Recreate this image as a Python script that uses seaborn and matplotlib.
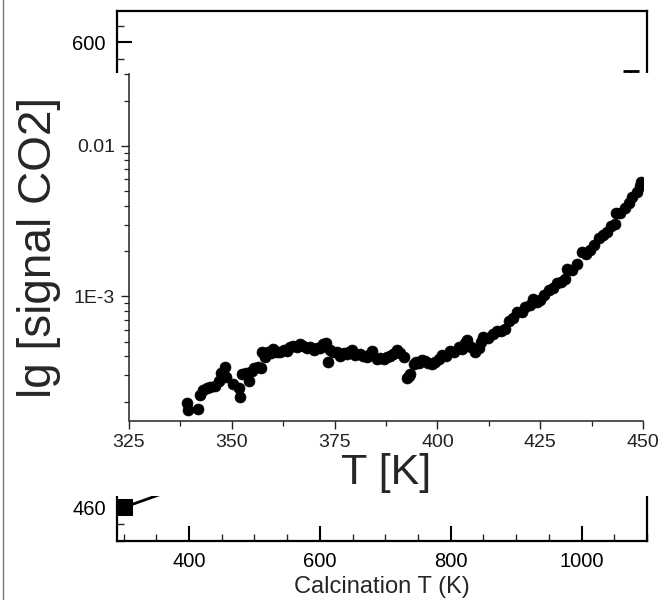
import numpy as np
import pandas as pd
import matplotlib
matplotlib.use("Agg")
import matplotlib.pyplot as plt
import seaborn as sns
from matplotlib.ticker import MultipleLocator, FixedLocator, FixedFormatter, LogLocator, NullFormatter
from matplotlib.patches import Rectangle
from matplotlib.lines import Line2D

# background plot: calcination temperature series (mostly hidden by the inset)
calc_T = [300, 600, 850, 1075]
calc_signal = [460, 481, 525, 576]
calc_err = [2, 4, 6, 15.5]
calc_yticks = [460, 600]

# inset: CO2 signal vs temperature
T_K = [339.2, 339.3, 341.9, 342.2, 343.1, 344.0, 344.8, 345.9, 347.0, 347.4,
       348.4, 348.7, 350.2, 351.8, 352.0, 352.4, 353.5, 354.3, 355.0, 355.5,
       356.4, 357.0, 357.3, 358.1, 358.8, 359.5, 360.1, 361.0, 361.8, 362.6,
       363.4, 364.2, 365.0, 365.8, 366.6, 367.4, 368.3, 369.1, 369.9, 370.7,
       371.5, 372.3, 372.8, 373.5, 374.0, 374.7, 375.5, 376.4, 377.2, 378.0,
       378.6, 379.2, 380.0, 381.2, 382.0, 382.8, 383.5, 384.1, 385.3, 386.1,
       386.9, 387.7, 388.5, 389.3, 390.2, 391.0, 391.8, 392.6, 393.0, 393.4,
       394.2, 394.8, 395.5, 396.3, 397.0, 397.8, 398.7, 399.5, 400.3, 401.1,
       402.0, 403.1, 404.0, 405.2, 406.0, 406.6, 407.2, 408.2, 409.2, 410.0,
       410.6, 411.2, 412.3, 413.5, 414.5, 415.5, 416.5, 417.3, 418.4, 419.4,
       420.5, 421.4, 422.4, 423.3, 424.2, 425.0, 426.0, 427.1, 428.1, 429.1,
       430.1, 431.1, 431.6, 432.8, 434.0, 435.2, 436.2, 437.2, 438.2, 439.2,
       440.3, 441.3, 442.3, 443.1, 443.4, 444.5, 445.7, 446.5, 447.4, 448.6,
       449.2, 449.5]
co2 = [1.97e-4, 1.76e-4, 1.78e-4, 2.22e-4, 2.39e-4, 2.45e-4, 2.50e-4, 2.56e-4, 2.76e-4, 3.10e-4,
       3.38e-4, 2.92e-4, 2.62e-4, 2.48e-4, 2.14e-4, 3.06e-4, 3.08e-4, 2.76e-4, 3.20e-4, 3.36e-4,
       3.42e-4, 3.36e-4, 4.25e-4, 3.96e-4, 4.30e-4, 4.20e-4, 4.48e-4, 4.30e-4, 4.25e-4, 4.40e-4,
       4.36e-4, 4.60e-4, 4.72e-4, 4.65e-4, 4.84e-4, 4.70e-4, 4.55e-4, 4.62e-4, 4.40e-4, 4.58e-4,
       4.55e-4, 4.80e-4, 4.88e-4, 3.65e-4, 4.40e-4, 4.25e-4, 4.30e-4, 4.05e-4, 4.20e-4, 4.15e-4,
       4.30e-4, 4.42e-4, 4.10e-4, 4.12e-4, 4.05e-4, 3.94e-4, 4.15e-4, 4.36e-4, 3.84e-4, 3.88e-4,
       3.85e-4, 3.95e-4, 4.00e-4, 4.12e-4, 4.42e-4, 4.20e-4, 3.98e-4, 2.87e-4, 2.95e-4, 3.05e-4,
       3.56e-4, 3.65e-4, 3.62e-4, 3.78e-4, 3.70e-4, 3.62e-4, 3.56e-4, 3.68e-4, 3.82e-4, 4.10e-4,
       4.05e-4, 4.36e-4, 4.30e-4, 4.60e-4, 4.50e-4, 4.90e-4, 5.14e-4, 4.60e-4, 4.25e-4, 4.55e-4,
       5.00e-4, 5.35e-4, 5.30e-4, 5.60e-4, 5.93e-4, 5.85e-4, 6.10e-4, 6.92e-4, 7.20e-4, 7.86e-4,
       7.90e-4, 8.49e-4, 8.80e-4, 9.65e-4, 9.20e-4, 9.40e-4, 1.02e-3, 1.10e-3, 1.14e-3, 1.22e-3,
       1.25e-3, 1.31e-3, 1.53e-3, 1.50e-3, 1.65e-3, 1.97e-3, 1.92e-3, 2.03e-3, 2.20e-3, 2.43e-3,
       2.55e-3, 2.68e-3, 2.95e-3, 3.05e-3, 3.56e-3, 3.60e-3, 3.84e-3, 4.20e-3, 4.60e-3, 4.96e-3,
       5.40e-3, 5.78e-3]

sns.set_style("ticks")
plt.rcParams['font.family'] = ['Liberation Sans', 'DejaVu Sans']

W, H = 660, 600
fig = plt.figure(figsize=(6.6, 6.0), dpi=100)

# main (background) axes
ax = fig.add_axes([117 / W, 59.3 / H, 530 / W, 530 / H])
sns.lineplot(x=calc_T, y=calc_signal, ax=ax, color="black", lw=2,
             marker="s", markersize=11, markeredgecolor="black")
ax.errorbar(calc_T, calc_signal, yerr=calc_err, fmt="none", ecolor="black",
            elinewidth=1.5, capsize=5.8, capthick=2)
ax.set_xlim(290, 1100)
ax.set_ylim(450, 609.5)
ax.xaxis.set_major_locator(MultipleLocator(200))
ax.xaxis.set_minor_locator(MultipleLocator(50))
ax.yaxis.set_major_locator(FixedLocator(calc_yticks))
ax.yaxis.set_minor_locator(MultipleLocator(5))
for s in ax.spines.values():
    s.set_linewidth(1.6)
    s.set_color("black")
ax.tick_params(which="major", direction="in", length=10.5, width=1.5,
               labelsize=14.5, pad=8, top=False, right=False, colors="black")
ax.tick_params(which="minor", direction="in", length=5, width=1,
               top=False, right=False)
ax.set_xlabel("Calcination T (K)", fontsize=17, labelpad=4)
ax.set_ylabel("")

# white panel behind the inset
fig.add_artist(Rectangle((0, (H - 495.5) / H), 1, (495.5 - 72.5) / H,
                         transform=fig.transFigure, facecolor="white",
                         edgecolor="none", zorder=2))

# inset axes
ins = fig.add_axes([129 / W, (H - 420.5) / H, 514 / W, 346.5 / H])
ins.set_zorder(3)
ins.set_facecolor("white")
sns.scatterplot(x=T_K, y=co2, ax=ins, color="black", s=62,
                edgecolor="black", linewidth=0.5)
ins.set_yscale("log")
ins.set_xlim(325, 450)
ins.set_ylim(1.5e-4, 0.03)
ins.yaxis.set_major_locator(FixedLocator([1e-3, 1e-2]))
ins.yaxis.set_major_formatter(FixedFormatter(["1E-3", "0.01"]))
ins.yaxis.set_minor_locator(LogLocator(base=10, subs=np.arange(2, 10)))
ins.yaxis.set_minor_formatter(NullFormatter())
ins.xaxis.set_major_locator(MultipleLocator(25))
ins.xaxis.set_minor_locator(MultipleLocator(12.5))
ins.spines["top"].set_visible(False)
ins.spines["right"].set_visible(False)
for k in ["left", "bottom"]:
    ins.spines[k].set_linewidth(1.1)
    ins.spines[k].set_color("#222222")
ins.tick_params(which="major", direction="out", length=6, width=1,
                labelsize=14, pad=4, colors="#222222")
ins.tick_params(which="minor", direction="out", length=3.5, width=0.9,
                colors="#222222")
ins.set_xlabel("T [K]", fontsize=31, labelpad=1)
ins.set_ylabel("lg [signal CO2]", fontsize=33, labelpad=9)

# thin border on the left edge
fig.add_artist(Line2D([0.004, 0.004], [0, 1], transform=fig.transFigure,
                      color="#777777", lw=1, zorder=5))

fig.savefig("out.png", dpi=100)
